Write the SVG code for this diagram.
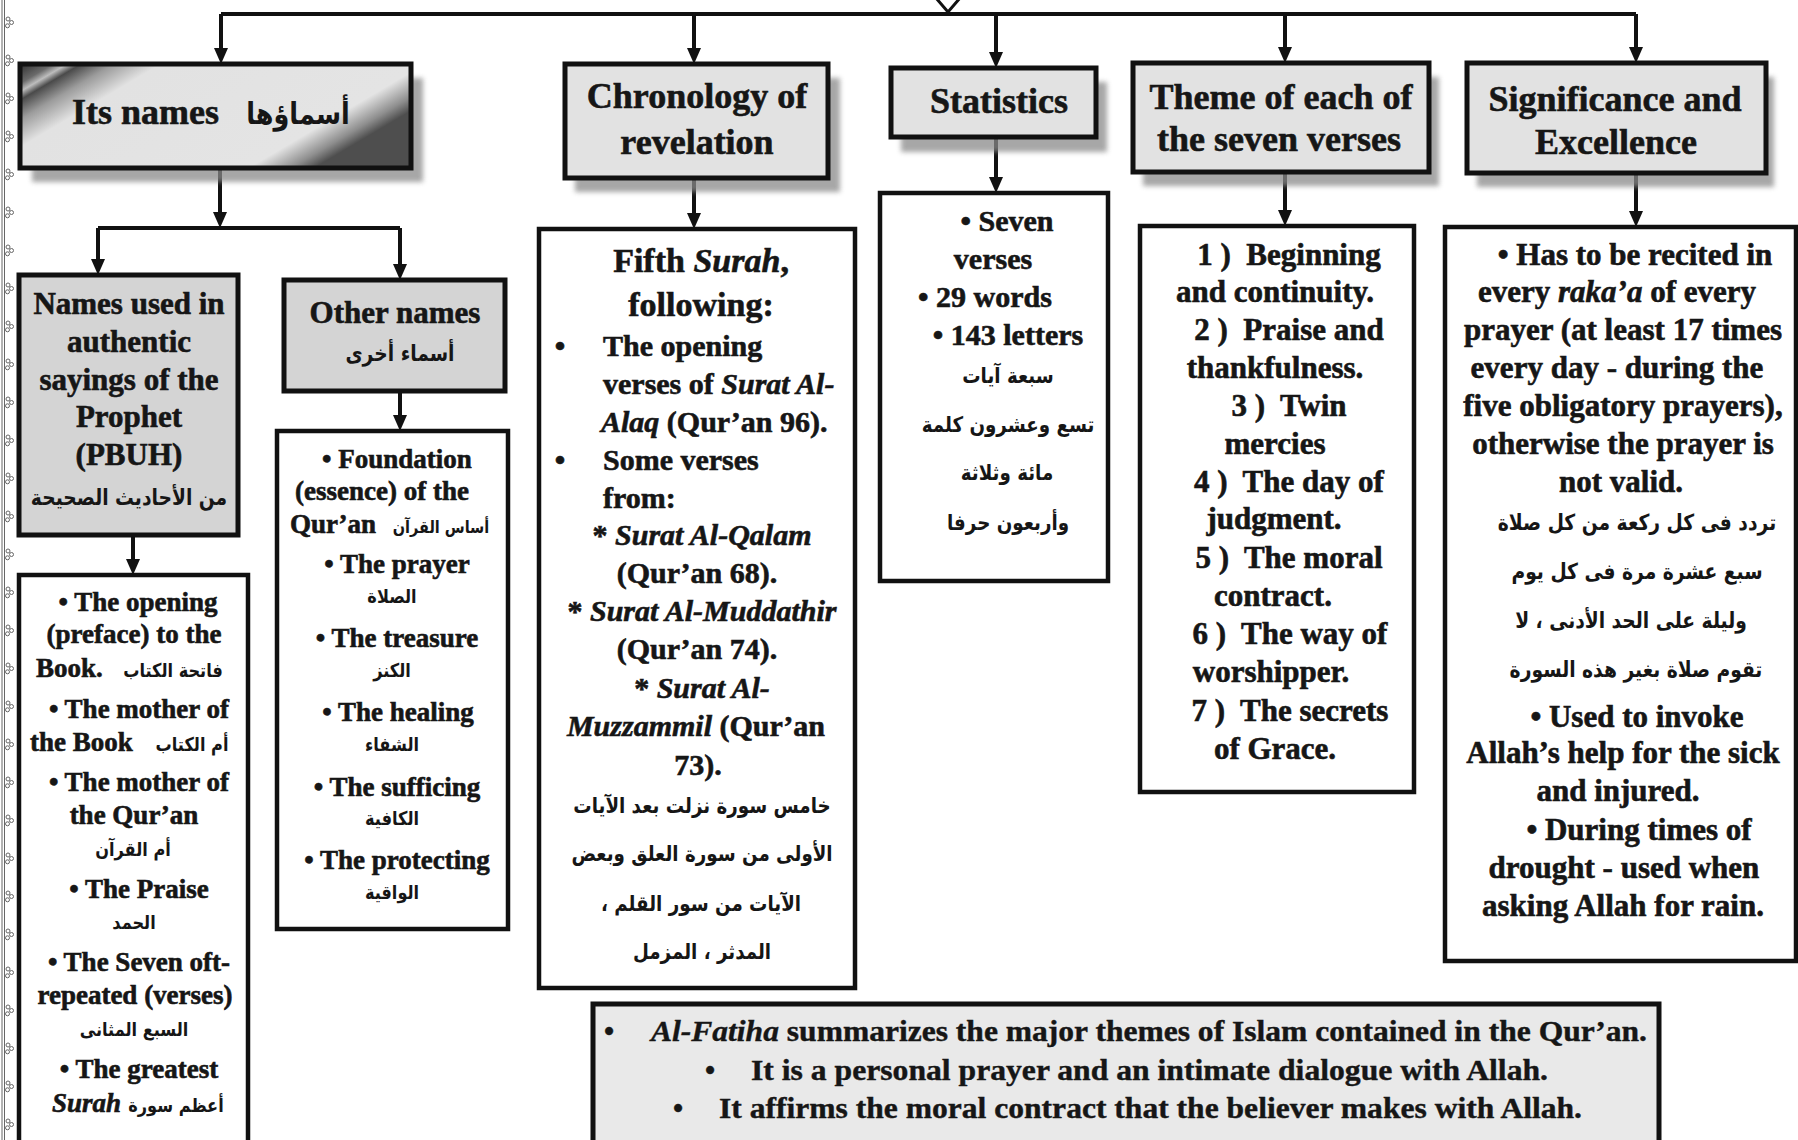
<svg xmlns="http://www.w3.org/2000/svg" width="1798" height="1140" viewBox="0 0 1798 1140">
<defs>
<marker id="ah" viewBox="0 0 16 14" markerWidth="16" markerHeight="14" refX="8" refY="7" orient="auto" markerUnits="userSpaceOnUse"><path d="M0,0 L16,7 L0,14 z" fill="#111"/></marker>
<linearGradient id="itsg" x1="0" y1="0" x2="1" y2="0.45">
<stop offset="0" stop-color="#2e2e2e"/>
<stop offset="0.07" stop-color="#6a6a6a"/>
<stop offset="0.10" stop-color="#bdbdbd"/>
<stop offset="0.13" stop-color="#4a4a4a"/>
<stop offset="0.20" stop-color="#9c9c9c"/>
<stop offset="0.30" stop-color="#e2e2e2"/>
<stop offset="0.86" stop-color="#e4e4e4"/>
<stop offset="0.95" stop-color="#8e8e8e"/>
<stop offset="1" stop-color="#4e4e4e"/>
</linearGradient>
<filter id="soft" x="-10%" y="-20%" width="120%" height="140%"><feGaussianBlur stdDeviation="2.5"/></filter>
<g id="orn"><circle cx="8" cy="-3" r="2"/><circle cx="11.5" cy="0.5" r="2"/><circle cx="7.5" cy="3.8" r="2"/></g>
</defs>
<style>
.box{stroke:#111;stroke-width:5}
.hdr{fill:#e2e2e2}
.sub{fill:#d4d4d4}
.lst{fill:#ffffff;stroke-width:4.5}
.shd{fill:#8a8a8a;opacity:0.75;filter:url(#soft)}
.con{fill:none;stroke:#111;stroke-width:4}
.arr{marker-end:url(#ah)}
text{fill:#161616}
.h36,.b34,.b31,.b30,.b27,.bt{font-family:"Liberation Serif","Times New Roman",serif;font-weight:bold;stroke:#161616;stroke-width:0.6}
.h36{font-size:36px;text-anchor:middle}
.b34{font-size:34px;text-anchor:middle}
.b31{font-size:31px;text-anchor:middle}
.b30{font-size:30px;text-anchor:middle}
.b27{font-size:27px;text-anchor:middle}
.bt{font-size:29px;stroke-width:0.4}
.st{text-anchor:start}
.pre{white-space:pre}
.it{font-style:italic}
.ar{font-family:"DejaVu Sans",sans-serif;font-weight:bold;direction:rtl;unicode-bidi:embed;text-anchor:middle}
.a17{font-size:17px}
.a19{font-size:19px}
.a21{font-size:21.5px}
.a22{font-size:22px}
.orn{fill:none;stroke:#666;stroke-width:1}
</style>

<rect width="1798" height="1140" fill="#ffffff"/>

<g id="border-ornament" class="orn">
<line x1="2" y1="0" x2="2" y2="1140"/>
<line x1="4.5" y1="0" x2="4.5" y2="1140"/>
<use href="#orn" y="22"/><use href="#orn" y="60"/><use href="#orn" y="98"/><use href="#orn" y="136"/><use href="#orn" y="174"/><use href="#orn" y="212"/><use href="#orn" y="250"/><use href="#orn" y="288"/><use href="#orn" y="326"/><use href="#orn" y="364"/><use href="#orn" y="402"/><use href="#orn" y="440"/><use href="#orn" y="478"/><use href="#orn" y="516"/><use href="#orn" y="554"/><use href="#orn" y="592"/><use href="#orn" y="630"/><use href="#orn" y="668"/><use href="#orn" y="706"/><use href="#orn" y="744"/><use href="#orn" y="782"/><use href="#orn" y="820"/><use href="#orn" y="858"/><use href="#orn" y="896"/><use href="#orn" y="934"/><use href="#orn" y="972"/><use href="#orn" y="1010"/><use href="#orn" y="1048"/><use href="#orn" y="1086"/><use href="#orn" y="1124"/>
</g>

<g id="connectors">
<path class="con" d="M221,14 H1636"/>
<path d="M936,-2 L948,12 L960,-2" fill="#fff" stroke="#111" stroke-width="3"/>
<path class="con arr" d="M221,14 V56"/>
<path class="con arr" d="M694,14 V56"/>
<path class="con arr" d="M996,14 V60"/>
<path class="con arr" d="M1285,14 V55"/>
<path class="con arr" d="M1636,14 V55"/>
<path class="con arr" d="M220,168 V220"/>
<path class="con" d="M98,228 H400"/>
<path class="con arr" d="M98,228 V267"/>
<path class="con arr" d="M400,228 V272"/>
<path class="con arr" d="M133,535 V567"/>
<path class="con arr" d="M400,391 V423"/>
<path class="con arr" d="M694,178 V221"/>
<path class="con arr" d="M996,137 V185"/>
<path class="con arr" d="M1285,172 V218"/>
<path class="con arr" d="M1636,173 V219"/>
</g>

<g id="its-names">
<rect class="shd" x="32" y="78" width="391" height="104"/>
<rect class="box" x="20" y="64" width="391" height="104" fill="url(#itsg)"/>
<text class="h36 st" x="72" y="124">Its names</text>
<text class="ar" transform="translate(298,124) scale(0.85,1)" font-size="30">أسماؤها</text>
</g>

<g id="names-authentic">
<rect class="box sub" x="19" y="275" width="219" height="260"/>
<text class="b31" x="129" y="314">Names used in</text>
<text class="b31" x="129" y="352">authentic</text>
<text class="b31" x="129" y="390">sayings of the</text>
<text class="b31" x="129" y="427">Prophet</text>
<text class="b31" x="129" y="465">(PBUH)</text>
<text class="ar a22" transform="translate(129,505) scale(0.85,1)">من الأحاديث الصحيحة</text>
</g>

<g id="other-names">
<rect class="box sub" x="284" y="280" width="221" height="111"/>
<text class="b31" x="395" y="323">Other names</text>
<text class="ar a22" transform="translate(400,361) scale(0.85,1)">أسماء أخرى</text>
</g>

<g id="names-list">
<rect class="box lst" x="19" y="575" width="229" height="600"/>
<text class="b27" x="138" y="611">• The opening</text>
<text class="b27" x="134" y="643">(preface) to the</text>
<text class="b27 st" x="36" y="677">Book.</text>
<text class="ar a19" transform="translate(173,677) scale(0.85,1)">فاتحة الكتاب</text>
<text class="b27" x="139" y="718">• The mother of</text>
<text class="b27 st" x="30" y="751">the Book</text>
<text class="ar a19" transform="translate(192,751) scale(0.85,1)">أم الكتاب</text>
<text class="b27" x="139" y="791">• The mother of</text>
<text class="b27" x="134" y="824">the Qur’an</text>
<text class="ar a19" transform="translate(133,856) scale(0.85,1)">أم القرآن</text>
<text class="b27" x="139" y="898">• The Praise</text>
<text class="ar a19" transform="translate(134,929) scale(0.85,1)">الحمد</text>
<text class="b27" x="139" y="971">• The Seven oft-</text>
<text class="b27" x="135" y="1004">repeated (verses)</text>
<text class="ar a19" transform="translate(134,1036) scale(0.85,1)">السبع المثانى</text>
<text class="b27" x="139" y="1078">• The greatest</text>
<text class="b27 st it" x="52" y="1112">Surah</text>
<text class="ar a19" transform="translate(176,1112) scale(0.85,1)">أعظم سورة</text>
</g>

<g id="other-list">
<rect class="box lst" x="277" y="431" width="231" height="498"/>
<text class="b27" x="397" y="468">• Foundation</text>
<text class="b27" x="382" y="500">(essence) of the</text>
<text class="b27 st" x="290" y="533">Qur’an</text>
<text class="ar a17" transform="translate(441,533) scale(0.85,1)">أساس القرآن</text>
<text class="b27" x="397" y="573">• The prayer</text>
<text class="ar a19" transform="translate(392,603) scale(0.85,1)">الصلاة</text>
<text class="b27" x="397" y="647">• The treasure</text>
<text class="ar a19" transform="translate(392,677) scale(0.85,1)">الكنز</text>
<text class="b27" x="398" y="721">• The healing</text>
<text class="ar a19" transform="translate(392,751) scale(0.85,1)">الشفاء</text>
<text class="b27" x="397" y="796">• The sufficing</text>
<text class="ar a19" transform="translate(392,825) scale(0.85,1)">الكافية</text>
<text class="b27" x="397" y="869">• The protecting</text>
<text class="ar a19" transform="translate(392,899) scale(0.85,1)">الواقية</text>
</g>

<g id="chronology">
<rect class="shd" x="575" y="78" width="265" height="114"/>
<rect class="box hdr" x="565" y="64" width="263" height="114"/>
<text class="h36" x="697" y="108">Chronology of</text>
<text class="h36" x="697" y="154">revelation</text>
</g>

<g id="fifth-surah">
<rect class="box lst" x="539" y="229" width="316" height="759"/>
<text class="b34" x="701" y="272">Fifth <tspan class="it">Surah</tspan>,</text>
<text class="b34" x="701" y="316">following:</text>
<text class="b30" x="560" y="356">•</text>
<text class="b30 st" x="603" y="356">The opening</text>
<text class="b30 st" x="603" y="394">verses of <tspan class="it">Surat Al-</tspan></text>
<text class="b30 st" x="601" y="432"><tspan class="it">Alaq</tspan> (Qur’an 96).</text>
<text class="b30" x="560" y="470">•</text>
<text class="b30 st" x="603" y="470">Some verses</text>
<text class="b30 st" x="603" y="508">from:</text>
<text class="b30" x="702" y="545">* <tspan class="it">Surat Al-Qalam</tspan></text>
<text class="b30" x="697" y="583">(Qur’an 68).</text>
<text class="b30" x="702" y="621">* <tspan class="it">Surat Al-Muddathir</tspan></text>
<text class="b30" x="697" y="659">(Qur’an 74).</text>
<text class="b30" x="702" y="698">* <tspan class="it">Surat Al-</tspan></text>
<text class="b30" x="696" y="736"><tspan class="it">Muzzammil</tspan> (Qur’an</text>
<text class="b30" x="698" y="775">73).</text>
<text class="ar a21" transform="translate(702,813) scale(0.85,1)">خامس سورة نزلت بعد الآيات</text>
<text class="ar a21" transform="translate(702,861) scale(0.85,1)">الأولى من سورة العلق وبعض</text>
<text class="ar a21" transform="translate(701,911) scale(0.85,1)">الآيات من سور القلم ،</text>
<text class="ar a21" transform="translate(702,959) scale(0.85,1)">المدثر ، المزمل</text>
</g>

<g id="statistics">
<rect class="shd" x="901" y="82" width="206" height="70"/>
<rect class="box hdr" x="891" y="68" width="205" height="69"/>
<text class="h36" x="999" y="113">Statistics</text>
</g>

<g id="stats-list">
<rect class="box lst" x="880" y="193" width="228" height="388"/>
<text class="b30" x="1007" y="231">• Seven</text>
<text class="b30" x="993" y="269">verses</text>
<text class="b30" x="985" y="307">• 29 words</text>
<text class="b30" x="1008" y="345">• 143 letters</text>
<text class="ar a21" transform="translate(1008,383) scale(0.85,1)">سبعة آيات</text>
<text class="ar a21" transform="translate(1008,432) scale(0.85,1)">تسع وعشرون كلمة</text>
<text class="ar a21" transform="translate(1007,480) scale(0.85,1)">مائة وثلاثة</text>
<text class="ar a21" transform="translate(1008,530) scale(0.85,1)">وأربعون حرفا</text>
</g>

<g id="theme">
<rect class="shd" x="1143" y="77" width="296" height="109"/>
<rect class="box hdr" x="1133" y="63" width="296" height="109"/>
<text class="h36" x="1281" y="109">Theme of each of</text>
<text class="h36" x="1279" y="151">the seven verses</text>
</g>

<g id="theme-list">
<rect class="box lst" x="1140" y="226" width="274" height="566"/>
<text class="b31 pre" x="1289" y="265">1 )  Beginning</text>
<text class="b31" x="1275" y="302">and continuity.</text>
<text class="b31 pre" x="1289" y="340">2 )  Praise and</text>
<text class="b31" x="1275" y="378">thankfulness.</text>
<text class="b31 pre" x="1289" y="416">3 )  Twin</text>
<text class="b31" x="1275" y="454">mercies</text>
<text class="b31 pre" x="1289" y="492">4 )  The day of</text>
<text class="b31" x="1274" y="529">judgment.</text>
<text class="b31 pre" x="1289" y="568">5 )  The moral</text>
<text class="b31" x="1273" y="606">contract.</text>
<text class="b31 pre" x="1290" y="644">6 )  The way of</text>
<text class="b31" x="1271" y="682">worshipper.</text>
<text class="b31 pre" x="1290" y="721">7 )  The secrets</text>
<text class="b31" x="1275" y="759">of Grace.</text>
</g>

<g id="significance">
<rect class="shd" x="1477" y="77" width="297" height="110"/>
<rect class="box hdr" x="1467" y="63" width="299" height="110"/>
<text class="h36" x="1615" y="111">Significance and</text>
<text class="h36" x="1616" y="154">Excellence</text>
</g>

<g id="significance-list">
<rect class="box lst" x="1445" y="227" width="351" height="734"/>
<text class="b31" x="1635" y="265">• Has to be recited in</text>
<text class="b31" x="1617" y="302">every <tspan class="it">raka’a</tspan> of every</text>
<text class="b31" x="1623" y="340">prayer (at least 17 times</text>
<text class="b31" x="1617" y="378">every day - during the</text>
<text class="b31" x="1623" y="416">five obligatory prayers),</text>
<text class="b31" x="1623" y="454">otherwise the prayer is</text>
<text class="b31" x="1621" y="492">not valid.</text>
<text class="ar a22" transform="translate(1637,530) scale(0.85,1)">تردد فى كل ركعة من كل صلاة</text>
<text class="ar a22" transform="translate(1637,579) scale(0.85,1)">سبع عشرة مرة فى كل يوم</text>
<text class="ar a22" transform="translate(1631,628) scale(0.85,1)">وليلة على الحد الأدنى ، لا</text>
<text class="ar a22" transform="translate(1636,677) scale(0.85,1)">تقوم صلاة بغير هذه السورة</text>
<text class="b31" x="1637" y="727">• Used to invoke</text>
<text class="b31" x="1623" y="763">Allah’s help for the sick</text>
<text class="b31" x="1618" y="801">and injured.</text>
<text class="b31" x="1639" y="840">• During times of</text>
<text class="b31" x="1624" y="878">drought - used when</text>
<text class="b31" x="1623" y="916">asking Allah for rain.</text>
</g>

<g id="summary">
<rect class="box" x="593" y="1004" width="1066" height="150" fill="#e9e9e9"/>
<text class="bt" x="604" y="1041">•</text>
<text class="bt" x="651" y="1041" textLength="996" lengthAdjust="spacingAndGlyphs"><tspan class="it">Al-Fatiha</tspan> summarizes the major themes of Islam contained in the Qur’an.</text>
<text class="bt" x="705" y="1080">•</text>
<text class="bt" x="751" y="1080" textLength="797" lengthAdjust="spacingAndGlyphs">It is a personal prayer and an intimate dialogue with Allah.</text>
<text class="bt" x="673" y="1118">•</text>
<text class="bt" x="719" y="1118" textLength="863" lengthAdjust="spacingAndGlyphs">It affirms the moral contract that the believer makes with Allah.</text>
</g>
</svg>
